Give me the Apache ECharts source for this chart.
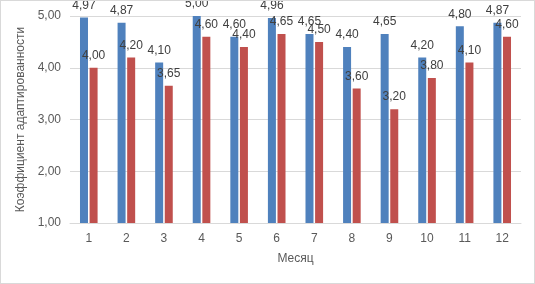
<!DOCTYPE html>
<html>
<head>
<meta charset="utf-8">
<script src="https://cdn.jsdelivr.net/npm/echarts@6/dist/echarts.min.js"></script>
<style>
  html, body { margin: 0; padding: 0; background: #fff; }
  #chart { width: 533px; height: 282px; border: 1px solid #d9d9d9; }
</style>
</head>
<body>
<div id="chart"></div>
<script>
// данные по месяцам
const months = ['1', '2', '3', '4', '5', '6', '7', '8', '9', '10', '11', '12'];
const seriesBlue = [4.97, 4.87, 4.10, 5.00, 4.60, 4.96, 4.65, 4.40, 4.65, 4.20, 4.80, 4.87];
const seriesRed = [4.00, 4.20, 3.65, 4.60, 4.40, 4.65, 4.50, 3.60, 3.20, 3.80, 4.10, 4.60];

const fmt = v => v.toFixed(2).replace('.', ',');
const font = 'Liberation Sans, Arial, sans-serif';

const chart = echarts.init(document.getElementById('chart'));
const labelCfg = {
    show: true,
    position: 'top',
    distance: 6,
    color: '#404040',
    fontSize: 12,
    fontFamily: font,
    formatter: p => fmt(p.value)
};
chart.setOption({
    animation: false,
    grid: { left: 69, right: 13, top: 15, bottom: 60 },
    xAxis: {
        type: 'category',
        data: months,
        name: 'Месяц',
        nameLocation: 'middle',
        nameGap: 30,
        nameTextStyle: { color: '#595959', fontSize: 12, fontFamily: font },
        axisLine: { lineStyle: { color: '#d9d9d9' } },
        axisTick: { show: false },
        axisLabel: { color: '#595959', fontSize: 12, fontFamily: font, margin: 10 }
    },
    yAxis: {
        type: 'value',
        min: 1,
        max: 5,
        interval: 1,
        name: 'Коэффициент адаптированности',
        nameLocation: 'middle',
        nameGap: 36,
        nameTextStyle: { color: '#595959', fontSize: 12, fontFamily: font },
        axisLine: { show: false },
        axisTick: { show: false },
        axisLabel: { color: '#595959', fontSize: 12, fontFamily: font, margin: 9, formatter: v => fmt(v) },
        splitLine: { lineStyle: { color: '#d9d9d9' } }
    },
    series: [
        {
            type: 'bar',
            data: seriesBlue,
            barWidth: 8,
            barGap: '20%',
            itemStyle: { color: '#4f81bd' },
            label: labelCfg
        },
        {
            type: 'bar',
            data: seriesRed,
            barWidth: 8,
            itemStyle: { color: '#c0504d' },
            label: labelCfg
        }
    ]
});
</script>
</body>
</html>
